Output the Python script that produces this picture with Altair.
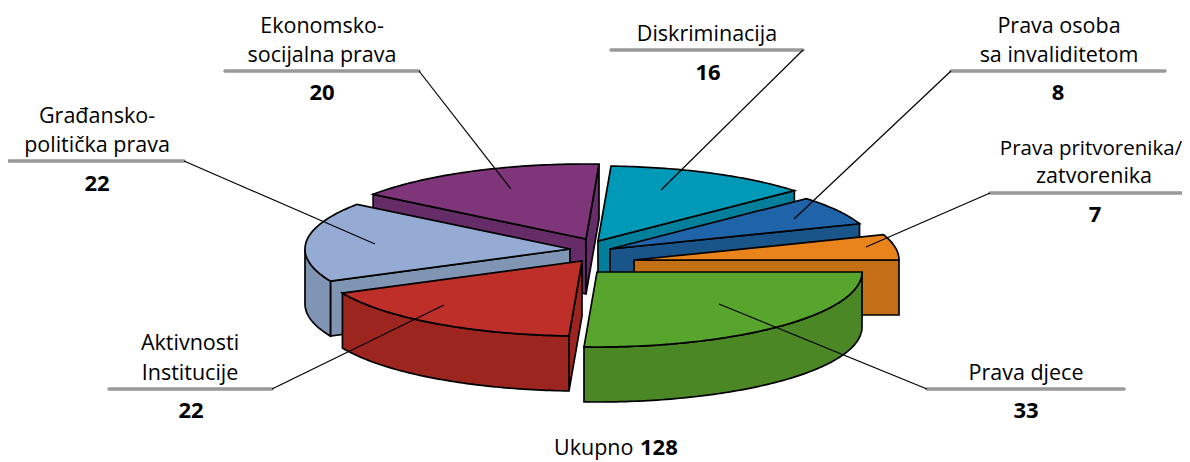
import numpy as np
import pandas as pd
import altair as alt

# --- data ---
categories = ["Prava djece", "Aktivnosti Institucije", "Građansko-politička prava",
              "Ekonomsko-socijalna prava", "Diskriminacija", "Prava osoba sa invaliditetom",
              "Prava pritvorenika/zatvorenika"]
values = [33, 22, 22, 20, 16, 8, 7]
total = 128

# --- style ---
top_colors = ["#58A52E", "#BD2F28", "#96ABD4", "#7F3579", "#009AB8", "#1F63A8", "#E9841D"]
side_colors = ["#4B8725", "#9C261F", "#8094B4", "#652C68", "#007F9B", "#195589", "#C36F15"]
apex_x = [597, 582, 570, 586, 598, 610, 634]
apex_y = [272, 261, 249, 239, 241, 249, 260]
draw_order = [3, 4, 5, 6, 2, 1, 0]
RX, RY, DEPTH = 265, 75, 55
FONT = "Open Sans"
SIZE = 21.5
BOLD_SIZE = 22

label_lines = ["Ekonomsko-", "socijalna prava", "Građansko-", "politička prava", "Diskriminacija",
               "Prava osoba", "sa invaliditetom", "zatvorenika",
               "Prava djece", "Aktivnosti", "Institucije"]
label_x = [322, 322, 97, 97, 707, 1059, 1059, 1094, 1026, 190, 190]
label_y = [33, 62, 123, 152, 41, 33, 62, 183, 380, 350, 380]
long_label = ["Prava pritvorenika/"]
long_x = [1091]
long_y = [155]
count_text = ["20", "22", "16", "8", "7", "33", "22"]
count_x = [322, 97, 708, 1058, 1095, 1026, 191]
count_y = [100, 191, 80, 100, 222, 418, 418]

shelf_x1 = [225, 9, 611, 951, 990, 927, 109]
shelf_x2 = [419, 184, 803, 1165, 1190, 1124, 272]
shelf_y = [71, 161, 50, 71, 193, 389, 389]
lead_x1 = [419, 184, 803, 951, 990, 927, 272]
lead_y1 = [71, 161, 50, 71, 193, 389, 389]
lead_x2 = [511, 375, 661, 794, 866, 719, 444]
lead_y2 = [189, 244, 190, 219, 247, 304, 305]


def rim(cx, cy, t1, t2, dy=0.0):
    ts = np.radians(np.linspace(t1, t2, max(2, int(abs(t2 - t1)) + 2)))
    return [[float(cx + RX * np.cos(t)), float(cy + dy + RY * np.sin(t))] for t in ts]


def face(coords, fill):
    ring = coords + [coords[0]]
    return {"type": "Feature", "properties": {"fill": fill},
            "geometry": {"type": "Polygon", "coordinates": [ring]}}


# slice angles run clockwise on screen from the right-hand side
edges = np.concatenate([[0.0], np.cumsum(values) / sum(values) * 360.0])
features = []
for i in draw_order:
    t1, t2 = float(edges[i]), float(edges[i + 1])
    cx, cy = apex_x[i], apex_y[i]
    top, side = top_colors[i], side_colors[i]
    for t, normal in ((t1, t1 - 90), (t2, t2 + 90)):
        if np.sin(np.radians(normal)) > 1e-6:
            ex = cx + RX * np.cos(np.radians(t))
            ey = cy + RY * np.sin(np.radians(t))
            features.append(face([[cx, cy], [ex, ey], [ex, ey + DEPTH], [cx, cy + DEPTH]], side))
    a, b = max(t1, 0.0), min(t2, 180.0)
    if a < b:
        features.append(face(rim(cx, cy, a, b) + rim(cx, cy, b, a, DEPTH), side))
    features.append(face([[cx, cy]] + rim(cx, cy, t1, t2), top))

proj = dict(type="identity", scale=1, translate=[-8, -8])

pie = (alt.Chart(alt.Data(values=features))
       .mark_geoshape(stroke="black", strokeWidth=1.7, strokeJoin="miter")
       .encode(fill=alt.Fill("properties.fill:N", scale=None))
       .project(**proj))

shelves = (alt.Chart(pd.DataFrame({"x": shelf_x1, "x2": shelf_x2, "y": shelf_y}))
           .mark_rule(color="#999999", strokeWidth=3.5, strokeCap="round")
           .encode(longitude="x:Q", latitude="y:Q", longitude2="x2:Q", latitude2="y:Q")
           .project(**proj))

leaders = (alt.Chart(pd.DataFrame({"x": lead_x1, "y": lead_y1, "x2": lead_x2, "y2": lead_y2}))
           .mark_rule(color="black", strokeWidth=1.2)
           .encode(longitude="x:Q", latitude="y:Q", longitude2="x2:Q", latitude2="y2:Q")
           .project(**proj))

labels = (alt.Chart(pd.DataFrame({"t": label_lines, "x": label_x, "y": label_y}))
          .mark_text(font=FONT, fontSize=SIZE, baseline="alphabetic", align="center", color="black")
          .encode(longitude="x:Q", latitude="y:Q", text="t:N")
          .project(**proj))

long_text = (alt.Chart(pd.DataFrame({"t": long_label, "x": long_x, "y": long_y}))
             .mark_text(font=FONT, fontSize=20.5, baseline="alphabetic", align="center", color="black")
             .encode(longitude="x:Q", latitude="y:Q", text="t:N")
             .project(**proj))

counts = (alt.Chart(pd.DataFrame({"t": count_text, "x": count_x, "y": count_y}))
          .mark_text(font=FONT, fontSize=BOLD_SIZE, fontWeight="bold", baseline="alphabetic",
                     align="center", color="black")
          .encode(longitude="x:Q", latitude="y:Q", text="t:N")
          .project(**proj))

ukupno = (alt.Chart(pd.DataFrame({"t": ["Ukupno"], "x": [554], "y": [455]}))
          .mark_text(font=FONT, fontSize=SIZE, baseline="alphabetic", align="left", color="black")
          .encode(longitude="x:Q", latitude="y:Q", text="t:N")
          .project(**proj))

ukupno_n = (alt.Chart(pd.DataFrame({"t": [str(total)], "x": [640], "y": [455]}))
            .mark_text(font=FONT, fontSize=BOLD_SIZE, fontWeight="bold", baseline="alphabetic",
                       align="left", color="black")
            .encode(longitude="x:Q", latitude="y:Q", text="t:N")
            .project(**proj))

chart = (alt.layer(pie, shelves, leaders, labels, long_text, counts, ukupno, ukupno_n)
         .properties(width=1174, height=454, padding=0, autosize=alt.AutoSizeParams(type="none"))
         .configure_view(stroke=None))

chart.save("out.html", embed_options={"renderer": "svg", "actions": False})
